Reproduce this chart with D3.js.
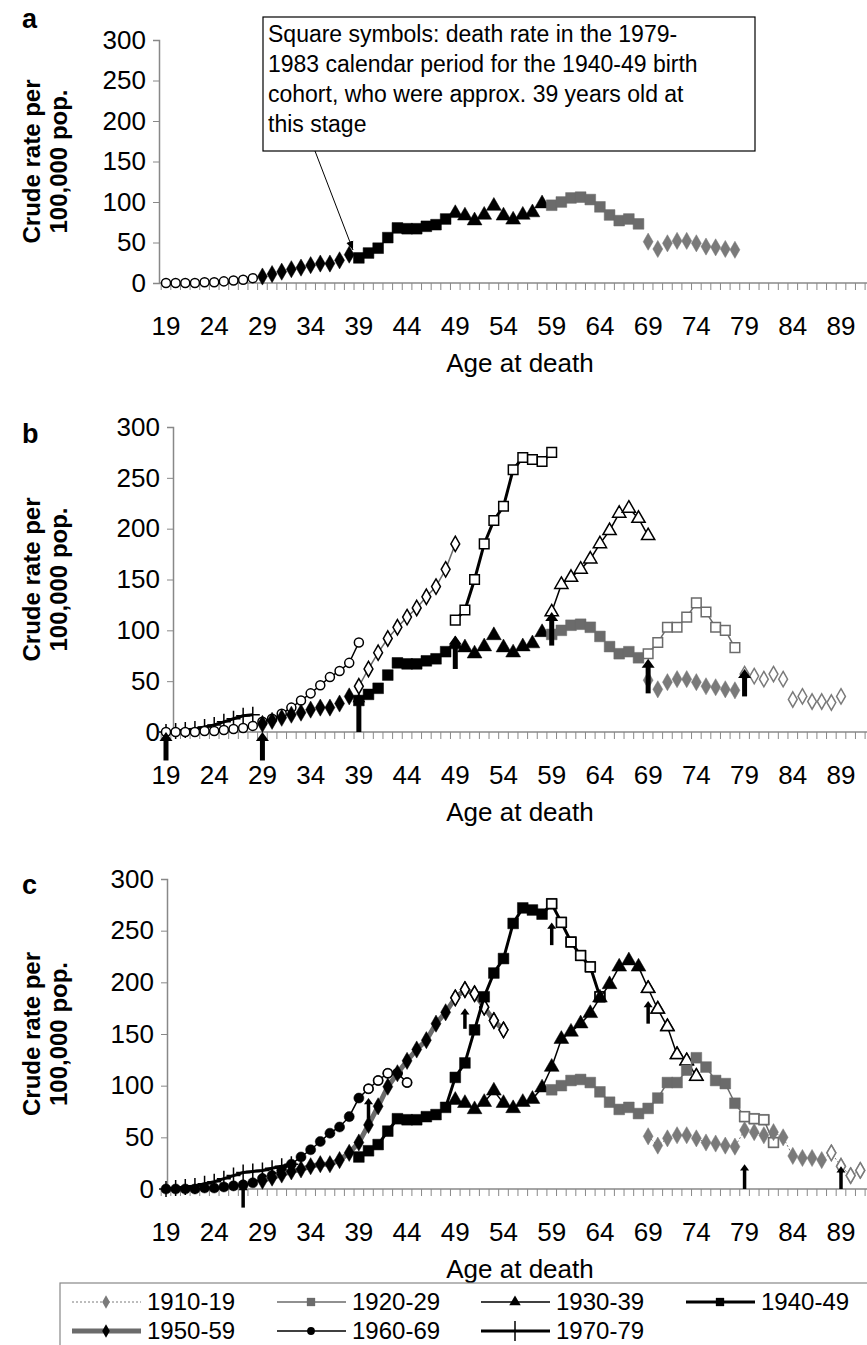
<!DOCTYPE html>
<html>
<head>
<meta charset="utf-8">
<script src="https://cdn.jsdelivr.net/npm/d3@7"></script>
<style>
body { margin: 0; background: #fff; }
text { font-family: "Liberation Sans", Arial, sans-serif; }
</style>
</head>
<body>
<div id="chart"></div>
<script>
// tick labels and y ticks
var ageTicks = [19, 24, 29, 34, 39, 44, 49, 54, 59, 64, 69, 74, 79, 84, 89];
var rateTicks = [0, 50, 100, 150, 200, 250, 300];

// panel a : 1979-83 calendar period, one cohort per 10 ages
var a1960 = [0, 0, 0, 0, 1, 1, 2, 3, 4, 6];             // ages 19-28
var a1950 = [8, 11, 14, 17, 19, 22, 24, 24, 28, 35];     // 29-38
var a1940 = [31, 37, 43, 56, 68, 67, 67, 70, 72, 79];    // 39-48
var a1930 = [86, 83, 77, 84, 95, 83, 78, 84, 87, 98];    // 49-58
var a1920 = [96, 100, 105, 106, 103, 94, 84, 77, 79, 73]; // 59-68
var a1910 = [51, 42, 49, 52, 52, 49, 45, 44, 42, 41];    // 69-78

// panel b : next calendar period (open symbols)
var b1970 = [0, 1, 2, 3, 5, 7, 10, 13, 16, 17];                  // 19-28
var b1960 = [10, 13, 18, 24, 31, 38, 46, 54, 60, 68, 88];        // 29-39
var b1950 = [45, 62, 78, 92, 103, 113, 122, 133, 143, 160, 185]; // 39-49
var b1940 = [110, 120, 150, 185, 208, 222, 258, 270, 268, 266, 275]; // 49-59
var b1930 = [118, 145, 152, 160, 170, 185, 198, 215, 220, 210, 193]; // 59-69
var b1920 = [77, 88, 103, 103, 113, 127, 118, 103, 100, 83];     // 69-78
var b1910 = [57, 55, 52, 57, 52, 32, 35, 30, 30, 29, 35];        // 79-89
var bArrowAge = [19, 29, 39, 49, 59, 69, 79];
var bArrowFrom = [-28, -28, 0, 62, 85, 38, 35];
var bArrowTo = [0, 0, 38, 95, 118, 72, 62];

// panel c : whole cohort curves, filled part then open part
var c1970 = [0, 1, 2, 3, 5, 7, 10, 13, 16, 17, 18, 20, 22, 24];          // 19-32
var c1960f = [0, 0, 0, 0, 1, 1, 2, 3, 4, 6, 10, 13, 18, 24, 31, 38, 46, 54, 60, 70, 88]; // 19-39
var c1960o = [97, 105, 112, 112, 103];                                   // 40-44
var c1950f = [8, 11, 14, 17, 19, 22, 24, 24, 28, 35, 45, 62, 80, 99, 112, 124, 135, 144, 160, 171]; // 29-48
var c1950o = [185, 193, 189, 176, 163, 154];                             // 49-54
var c1940f = [31, 37, 43, 56, 68, 67, 67, 70, 72, 79, 108, 122, 154, 186, 209, 223, 257, 272, 270, 266]; // 39-58
var c1940o = [276, 258, 239, 226, 215, 186];                             // 59-64
var c1930f = [86, 83, 77, 84, 95, 83, 78, 84, 87, 98, 118, 145, 152, 160, 170, 185, 198, 215, 221, 215]; // 49-68
var c1930o = [194, 174, 157, 130, 124, 109];                             // 69-74
var c1920f = [96, 100, 105, 106, 103, 94, 84, 77, 79, 73, 78, 88, 103, 103, 115, 127, 118, 105, 102, 83]; // 59-78
var c1920o = [70, 68, 67, 45];                                           // 79-82
var c1910f = [51, 42, 49, 52, 52, 49, 45, 44, 42, 41, 57, 55, 52, 55, 50, 32, 30, 30, 28]; // 69-87
var c1910o = [35, 22, 13, 18];                                           // 88-91
var cArrowAge = [27, 40, 50, 59, 69, 79, 89];
var cArrowFrom = [-18, 68, 155, 236, 160, 0, 0];
var cArrowTo = [5, 88, 175, 258, 182, 24, 22];

var legendNames = ["1910-19", "1920-29", "1930-39", "1940-49", "1950-59", "1960-69", "1970-79"];

var W = 867, H = 1345;
var svg = d3.select("#chart").append("svg").attr("width", W).attr("height", H);
var defs = svg.append("defs");
defs.append("marker").attr("id", "ah").attr("viewBox", "0 0 10 10")
    .attr("refX", 10).attr("refY", 5).attr("markerWidth", 9).attr("markerHeight", 9)
    .attr("orient", "auto-start-reverse")
    .append("path").attr("d", "M0,1 L10,5 L0,9 Z").attr("fill", "#000");

var x = d3.scaleLinear().domain([19, 89]).range([166, 841]);
var GREY = "#6b6b6b", LGREY = "#7a7a7a";

var styles = {
    "1910-19": {sym: d3.symbolDiamond, size: 85, col: LGREY, line: LGREY, lw: 1, dash: "2,2"},
    "1920-29": {sym: d3.symbolSquare, size: 115, col: GREY, line: GREY, lw: 1.5},
    "1930-39": {sym: d3.symbolTriangle, size: 95, col: "#000", line: "#000", lw: 1.5},
    "1940-49": {sym: d3.symbolSquare, size: 115, col: "#000", line: "#000", lw: 3},
    "1950-59": {sym: d3.symbolDiamond, size: 85, col: "#000", line: GREY, lw: 5},
    "1960-69": {sym: d3.symbolCircle, size: 80, col: "#000", line: "#000", lw: 1.5},
    "1970-79": {sym: d3.symbolCross, size: 0, col: "#000", line: "#000", lw: 3}
};

function panel(top0, top300, axisX, letter, letterY) {
    var y = d3.scaleLinear().domain([0, 300]).range([top0, top300]);
    var g = svg.append("g");
    // x axis line and yearly ticks
    g.append("line").attr("x1", axisX).attr("x2", W).attr("y1", top0).attr("y2", top0)
        .attr("stroke", "#888").attr("stroke-width", 1.5);
    g.selectAll(".xt").data(d3.range(18.5, 92.5, 1)).enter().append("line")
        .attr("x1", d => x(d)).attr("x2", d => x(d)).attr("y1", top0).attr("y2", top0 + 7)
        .attr("stroke", "#888");
    var ya = d3.axisLeft(y).tickValues(rateTicks).tickSize(6).tickPadding(7);
    var yg = g.append("g").attr("transform", `translate(${axisX},0)`).call(ya);
    yg.select(".domain").attr("stroke", "#888").attr("stroke-width", 1.5);
    yg.selectAll(".tick line").attr("stroke", "#888");
    yg.selectAll("text").style("font-size", "26px").attr("fill", "#000")
        .style("font-family", "Liberation Sans, Arial, sans-serif");
    g.selectAll(".xl").data(ageTicks).enter().append("text")
        .attr("x", d => x(d)).attr("y", top0 + 52).attr("text-anchor", "middle")
        .style("font-size", "26px").text(d => d);
    g.append("text").attr("x", 520).attr("y", top0 + 89).attr("text-anchor", "middle")
        .style("font-size", "26px").text("Age at death");
    var mid = (top0 + top300) / 2;
    var t = g.append("text").attr("transform", `translate(44,${mid}) rotate(-90)`)
        .attr("text-anchor", "middle").style("font-size", "24px").style("font-weight", "bold");
    t.append("tspan").attr("x", 0).attr("dy", "-0.15em").text("Crude rate per");
    t.append("tspan").attr("x", 0).attr("dy", "1.1em").text("100,000 pop.");
    g.append("text").attr("x", 22).attr("y", letterY).style("font-size", "27px")
        .style("font-weight", "bold").text(letter);
    return {g: g, y: y};
}

function series(p, name, start, vals, open, withLine) {
    var st = styles[name];
    var pts = vals.map((v, i) => [start + i, v]);
    if (withLine) {
        p.g.append("path").datum(pts)
            .attr("d", d3.line().x(d => x(d[0])).y(d => p.y(d[1])))
            .attr("fill", "none").attr("stroke", open && name !== "1950-59" ? st.col : st.line)
            .attr("stroke-width", name === "1950-59" && open ? 1.5 : st.lw)
            .attr("stroke-dasharray", st.dash || null);
    }
    if (name === "1970-79") {
        p.g.selectAll(null).data(pts).enter().append("path")
            .attr("d", d => `M${x(d[0]) - 7},${p.y(d[1])}H${x(d[0]) + 7}M${x(d[0])},${p.y(d[1]) - 8}V${p.y(d[1]) + 8}`)
            .attr("stroke", "#000").attr("stroke-width", 1.5);
        return;
    }
    p.g.selectAll(null).data(pts).enter().append("path")
        .attr("d", d3.symbol().type(st.sym).size(open ? st.size * 0.8 : st.size))
        .attr("transform", d => `translate(${x(d[0])},${p.y(d[1])})`)
        .attr("fill", open ? "#fff" : st.col)
        .attr("stroke", st.col).attr("stroke-width", open ? 1.5 : 0.5);
}

function arrows(p, ages, from, to, w) {
    ages.forEach(function(a, i) {
        var x0 = x(a), y0 = p.y(from[i]), y1 = p.y(to[i]);
        p.g.append("line").attr("x1", x0).attr("x2", x0).attr("y1", y0).attr("y2", y1 + w * 1.6)
            .attr("stroke", "#000").attr("stroke-width", w);
        p.g.append("path").attr("d", `M${x0 - w * 1.3},${y1 + w * 1.8}L${x0},${y1}L${x0 + w * 1.3},${y1 + w * 1.8}Z`)
            .attr("fill", "#000");
    });
}

// panel a
var pa = panel(283, 40, 159, "a", 28);
series(pa, "1960-69", 19, a1960, true, false);
series(pa, "1950-59", 29, a1950, false, false);
series(pa, "1940-49", 39, a1940, false, false);
series(pa, "1930-39", 49, a1930, false, false);
series(pa, "1920-29", 59, a1920, false, false);
series(pa, "1910-19", 69, a1910, false, false);
pa.g.append("rect").attr("x", 263).attr("y", 17).attr("width", 492).attr("height", 134)
    .attr("fill", "#fff").attr("stroke", "#000").attr("stroke-width", 1.2);
["Square symbols: death rate in the 1979-", "1983 calendar period for the 1940-49 birth",
 "cohort, who were approx. 39 years old at", "this stage"].forEach(function(s, i) {
    pa.g.append("text").attr("x", 268).attr("y", 42 + i * 30).style("font-size", "23px").text(s);
});
pa.g.append("line").attr("x1", 315).attr("y1", 151).attr("x2", 353).attr("y2", 250)
    .attr("stroke", "#000").attr("stroke-width", 1).attr("marker-end", "url(#ah)");

// panel b
var pb = panel(732, 427, 173, "b", 443);
series(pb, "1970-79", 19, b1970, false, true);
series(pb, "1960-69", 19, a1960, true, false);
series(pb, "1960-69", 29, b1960, true, true);
series(pb, "1950-59", 29, a1950, false, false);
series(pb, "1950-59", 39, b1950, true, true);
series(pb, "1940-49", 39, a1940, false, false);
series(pb, "1940-49", 49, b1940, true, true);
series(pb, "1930-39", 49, a1930, false, false);
series(pb, "1930-39", 59, b1930, true, true);
series(pb, "1920-29", 59, a1920, false, false);
series(pb, "1920-29", 69, b1920, true, true);
series(pb, "1910-19", 69, a1910, false, false);
series(pb, "1910-19", 79, b1910, true, false);
arrows(pb, bArrowAge, bArrowFrom, bArrowTo, 5);

// panel c
var pc = panel(1189, 879, 167, "c", 894);
series(pc, "1970-79", 19, c1970, false, true);
series(pc, "1960-69", 19, c1960f.concat(c1960o), false, true);
series(pc, "1960-69", 40, c1960o, true, false);
series(pc, "1950-59", 29, c1950f.concat(c1950o), false, true);
series(pc, "1950-59", 49, c1950o, true, false);
series(pc, "1940-49", 39, c1940f.concat(c1940o), false, true);
series(pc, "1940-49", 59, c1940o, true, false);
series(pc, "1930-39", 49, c1930f.concat(c1930o), false, true);
series(pc, "1930-39", 69, c1930o, true, false);
series(pc, "1920-29", 59, c1920f.concat(c1920o), false, true);
series(pc, "1920-29", 79, c1920o, true, false);
series(pc, "1910-19", 69, c1910f.concat(c1910o), false, true);
series(pc, "1910-19", 88, c1910o, true, false);
arrows(pc, cArrowAge, cArrowFrom, cArrowTo, 3.5);

// legend
var lg = svg.append("g");
lg.append("rect").attr("x", 60).attr("y", 1283).attr("width", 820).attr("height", 80)
    .attr("fill", "#fff").attr("stroke", "#888").attr("stroke-width", 1.2);
var colX = [72, 277, 481, 686];
legendNames.forEach(function(n, i) {
    var st = styles[n];
    var lx = colX[i % 4], ly = i < 4 ? 1302 : 1331;
    lg.append("line").attr("x1", lx).attr("x2", lx + 69).attr("y1", ly).attr("y2", ly)
        .attr("stroke", st.line).attr("stroke-width", st.lw).attr("stroke-dasharray", st.dash || null);
    if (n === "1970-79") {
        lg.append("line").attr("x1", lx + 34).attr("x2", lx + 34).attr("y1", ly - 10).attr("y2", ly + 10)
            .attr("stroke", "#000").attr("stroke-width", 1.5);
    } else {
        lg.append("path").attr("d", d3.symbol().type(st.sym).size(st.size * 0.6))
            .attr("transform", `translate(${lx + 34},${ly})`).attr("fill", st.col);
    }
    lg.append("text").attr("x", lx + 75).attr("y", ly + 8).style("font-size", "24px").text(n);
});
</script>
</body>
</html>
